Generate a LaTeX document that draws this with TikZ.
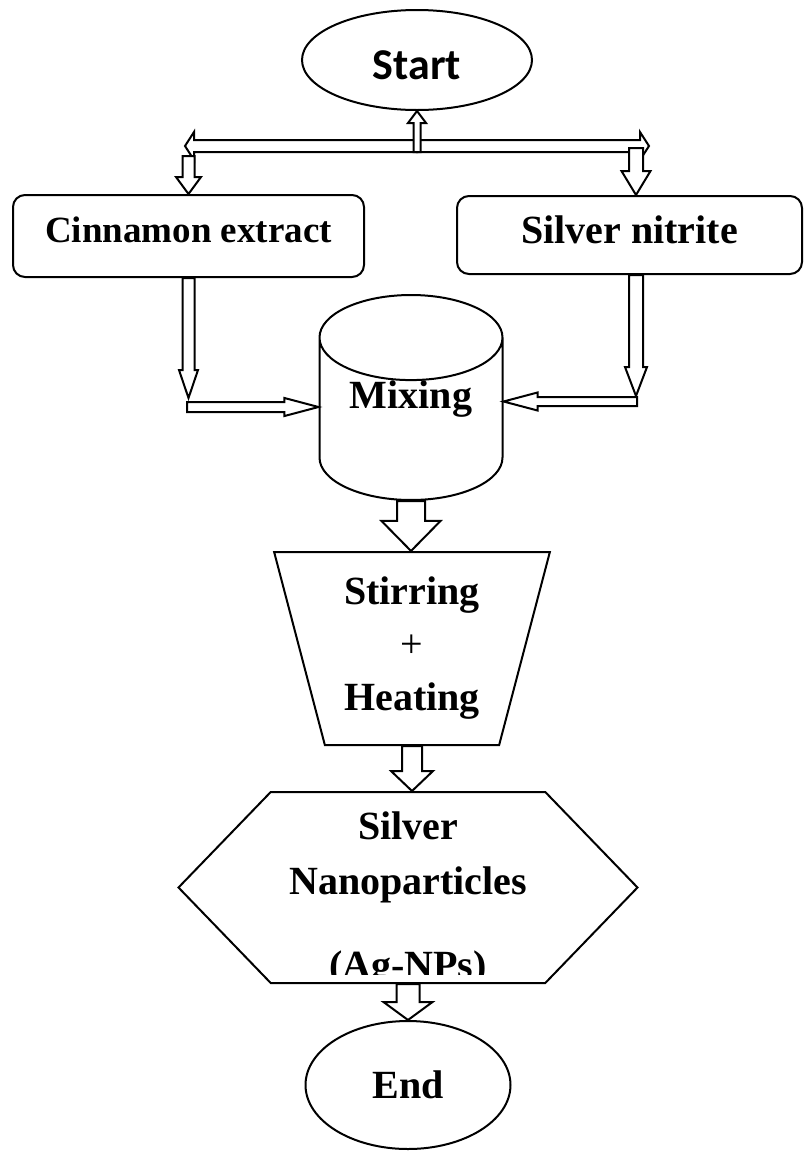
\documentclass[tikz,border=0pt]{standalone}
\usepackage{fontspec}
\setmainfont{Liberation Serif}
\newfontfamily\startfont{Carlito}
\usetikzlibrary{shapes.geometric,shapes.symbols,calc}

\tikzset{
  barrow/.style n args={3}{draw, fill=white, line join=miter,
    to path={($(\tikztostart)!#1!90:(\tikztotarget)$)
      -- ($(\tikztotarget)!#3!(\tikztostart)+(\tikztostart)!#1!90:(\tikztotarget)-(\tikztostart)$)
      -- ($(\tikztotarget)!#3!(\tikztostart)+(\tikztostart)!#2!90:(\tikztotarget)-(\tikztostart)$)
      -- (\tikztotarget)
      -- ($(\tikztotarget)!#3!(\tikztostart)+(\tikztostart)!#2!-90:(\tikztotarget)-(\tikztostart)$)
      -- ($(\tikztotarget)!#3!(\tikztostart)+(\tikztostart)!#1!-90:(\tikztotarget)-(\tikztostart)$)
      -- ($(\tikztostart)!#1!-90:(\tikztotarget)$) -- cycle}},
  procbox/.style={draw, rounded corners=12pt, text depth=11pt},
}

\begin{document}
\begin{tikzpicture}[x=1pt, y=-1pt, line width=2pt,
    font=\fontsize{40}{53}\selectfont\bfseries]
    \useasboundingbox (0,0) rectangle (808,1152);

    % ノード
    \node[ellipse, draw, minimum width=230pt, minimum height=100pt, text height=40pt,
      font=\fontsize{44}{50}\startfont\bfseries] (start) at (417,60) {Start};
    \node[procbox, minimum width=351pt, minimum height=82pt, text depth=12pt,
      font=\fontsize{37}{44}\selectfont\bfseries] (cinn) at (188.5,236) {Cinnamon extract};
    \node[procbox, minimum width=345pt, minimum height=78pt] (nitr) at (629.5,235) {Silver nitrite};
    \node[cylinder, draw, shape border rotate=90, aspect=0.66, anchor=shape center,
      inner ysep=0pt, text depth=60pt, minimum width=183pt, minimum height=195pt]
      (mix) at (411,397.5) {Mixing};
    \node[trapezium, draw, shape border rotate=180, trapezium angle=74.5,
      trapezium stretches=true, minimum width=276pt, minimum height=193pt,
      align=center] (stir) at (412,648.5) {Stirring\\{\mdseries +}\\Heating};
    \node[signal, draw, signal to=west and east, signal pointer angle=92,
      minimum width=459pt, minimum height=191pt] (hex) at (408,887.5) {};
    \begin{scope}
      \clip (170,780) rectangle (650,974);
      \node[align=center, font=\fontsize{40}{55}\selectfont\bfseries] (hextxt)
        at (408,900) {Silver\\Nanoparticles\\[29pt](Ag-NPs)};
    \end{scope}
    \node[ellipse, draw, minimum width=205pt, minimum height=128pt] (end) at (408,1085) {End};

    % 分岐の点
    \coordinate (barM) at (417,146);
    \coordinate (barL) at (185,146);
    \coordinate (barR) at (649,146);
    \coordinate (barF) at (417,152);
    \coordinate (dL) at (188.5,156);
    \coordinate (dR) at (636,148);
    \coordinate (dRt) at (dR |- nitr.north);
    \coordinate (cL) at (188.5,398);
    \coordinate (hL) at (187,407);
    \coordinate (hLt) at (hL -| mix.west);
    \coordinate (cR) at (636,396);
    \coordinate (cRs) at (cR |- nitr.south);
    \coordinate (hR) at (637,401.5);
    \coordinate (hRt) at (hR -| mix.east);
    \coordinate (stirT) at (mix.south |- stir.north);
    \coordinate (hexT) at (stir.south |- hex.north);

    % 矢印
    \draw[barrow={6pt}{14pt}{9pt}] (barM) to (barL);
    \draw[barrow={6pt}{14pt}{9pt}] (barM) to (barR);
    \draw[barrow={3.5pt}{9pt}{12pt}] (barF) to (start.south);
    \draw[barrow={6pt}{12.5pt}{17pt}] (dL) to (cinn.north);
    \draw[barrow={7pt}{14.5pt}{24pt}] (dR) to (dRt);
    \draw[barrow={6pt}{9.5pt}{28pt}] (cinn.south) to (cL);
    \draw[barrow={5pt}{9pt}{34pt}] (hL) to (hLt);
    \draw[barrow={7pt}{11pt}{29pt}] (cRs) to (cR);
    \draw[barrow={4.5pt}{9pt}{34pt}] (hR) to (hRt);
    \draw[barrow={14pt}{29.5pt}{30pt}] (mix.south) to (stirT);
    \draw[barrow={10pt}{21pt}{20pt}] (stir.south) to (hexT);
    \draw[barrow={11.5pt}{24.5pt}{18pt}] (hex.south) to (end.north);
  \end{tikzpicture}
\end{document}
